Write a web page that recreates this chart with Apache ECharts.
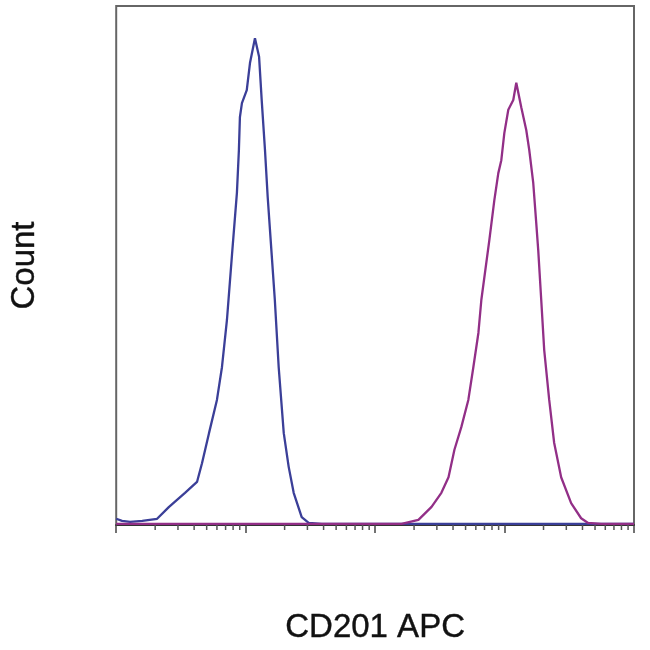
<!DOCTYPE html>
<html>
<head>
<meta charset="utf-8">
<script src="https://cdn.jsdelivr.net/npm/echarts@6/dist/echarts.min.js"></script>
<style>html,body{margin:0;padding:0;background:#fff}#c{width:650px;height:650px}</style>
</head>
<body>
<div id="c"></div>
<script>
// Blue histogram (isotype / unstained)
const blueX = [1, 1.11, 1.28, 1.59, 2.07, 2.56, 3.40, 4.21, 4.60, 5.21, 6.00, 6.56, 7.17, 7.84, 8.56, 8.87, 9.03, 9.36, 10.2, 10.8, 11.8, 12.7, 13.3, 14.1, 14.8, 15.9, 16.8, 18.0, 19.7, 21.5, 23.5, 27.1, 30.7, 38.7, 10000];
const blueY = [1.2, 0.8, 0.6, 0.8, 1.2, 3.5, 6.2, 8.3, 11.9, 17.7, 24.1, 30.4, 39.5, 52.0, 64.0, 72.3, 78.6, 81.3, 83.8, 89.0, 93.8, 90.2, 81.9, 72.3, 63.2, 52.0, 43.4, 30.4, 17.7, 11.2, 6.2, 1.5, 0.4, 0.2, 0.2];
// Magenta histogram (CD201 APC)
const magX = [1, 160, 216, 273, 325, 369, 410, 464, 525, 574, 628, 662, 763, 834, 895, 944, 996, 1069, 1168, 1232, 1346, 1471, 1551, 1666, 1757, 1820, 1920, 2025, 2213, 2418, 2737, 3269, 3904, 4421, 5568, 10000];
const magY = [0.2, 0.2, 1.0, 3.5, 6.2, 9.2, 14.5, 18.9, 24.1, 30.4, 37.0, 43.4, 54.9, 62.6, 67.8, 70.3, 75.5, 80.0, 81.9, 85.2, 80.5, 76.1, 72.3, 65.9, 58.2, 53.0, 43.4, 33.7, 24.1, 15.8, 9.2, 4.2, 1.3, 0.4, 0.2, 0.2];
// Minor log ticks
const minorTicks = [2,3,4,5,6,7,8,9,20,30,40,50,60,70,80,90,200,300,400,500,600,700,800,900,2000,3000,4000,5000,6000,7000,8000,9000];
const xTitle = 'CD201 APC';
const yTitle = 'Count';

function pairs(xs, ys) { return xs.map((x, i) => [x, ys[i]]); }

const chart = echarts.init(document.getElementById('c'));
chart.setOption({
  animation: false,
  backgroundColor: '#fff',
  grid: { left: 114, right: 16, top: 6, bottom: 125, show: true, borderColor: '#666', borderWidth: 2, backgroundColor: 'transparent' },
  xAxis: {
    type: 'log', logBase: 10, min: 1, max: 10000, interval: 1,
    name: xTitle, nameLocation: 'middle', nameGap: 86,
    nameTextStyle: { fontFamily: 'Liberation Sans', fontSize: 33, color: '#111', textBorderColor: '#111', textBorderWidth: 0.4 },
    axisLine: { show: true, lineStyle: { color: '#333', width: 2 } },
    axisTick: { show: true, length: 8, lineStyle: { color: '#444', width: 1.5 } },
    axisLabel: { show: false },
    splitLine: { show: false }
  },
  yAxis: {
    type: 'value', min: 0, max: 100,
    name: yTitle, nameLocation: 'middle', nameGap: 75, nameRotate: 90,
    nameTextStyle: { fontFamily: 'Liberation Sans', fontSize: 33, color: '#111', textBorderColor: '#111', textBorderWidth: 0.4 },
    axisLine: { show: false }, axisTick: { show: false }, axisLabel: { show: false }, splitLine: { show: false }
  },
  series: [
    { type: 'line', data: pairs(blueX, blueY), showSymbol: false, lineStyle: { color: '#3b3f98', width: 2.3 }, z: 3 },
    { type: 'line', data: pairs(magX, magY), showSymbol: false, lineStyle: { color: '#922f87', width: 2.3 }, z: 4 },
    {
      type: 'custom', clip: false, silent: true,
      data: minorTicks.map(v => [v]),
      renderItem: function (params, api) {
        const p = api.coord([api.value(0), 0]);
        return { type: 'line', shape: { x1: p[0], y1: p[1], x2: p[0], y2: p[1] + 5 }, style: { stroke: '#555', lineWidth: 1.5 } };
      }
    }
  ]
});
</script>
</body>
</html>
